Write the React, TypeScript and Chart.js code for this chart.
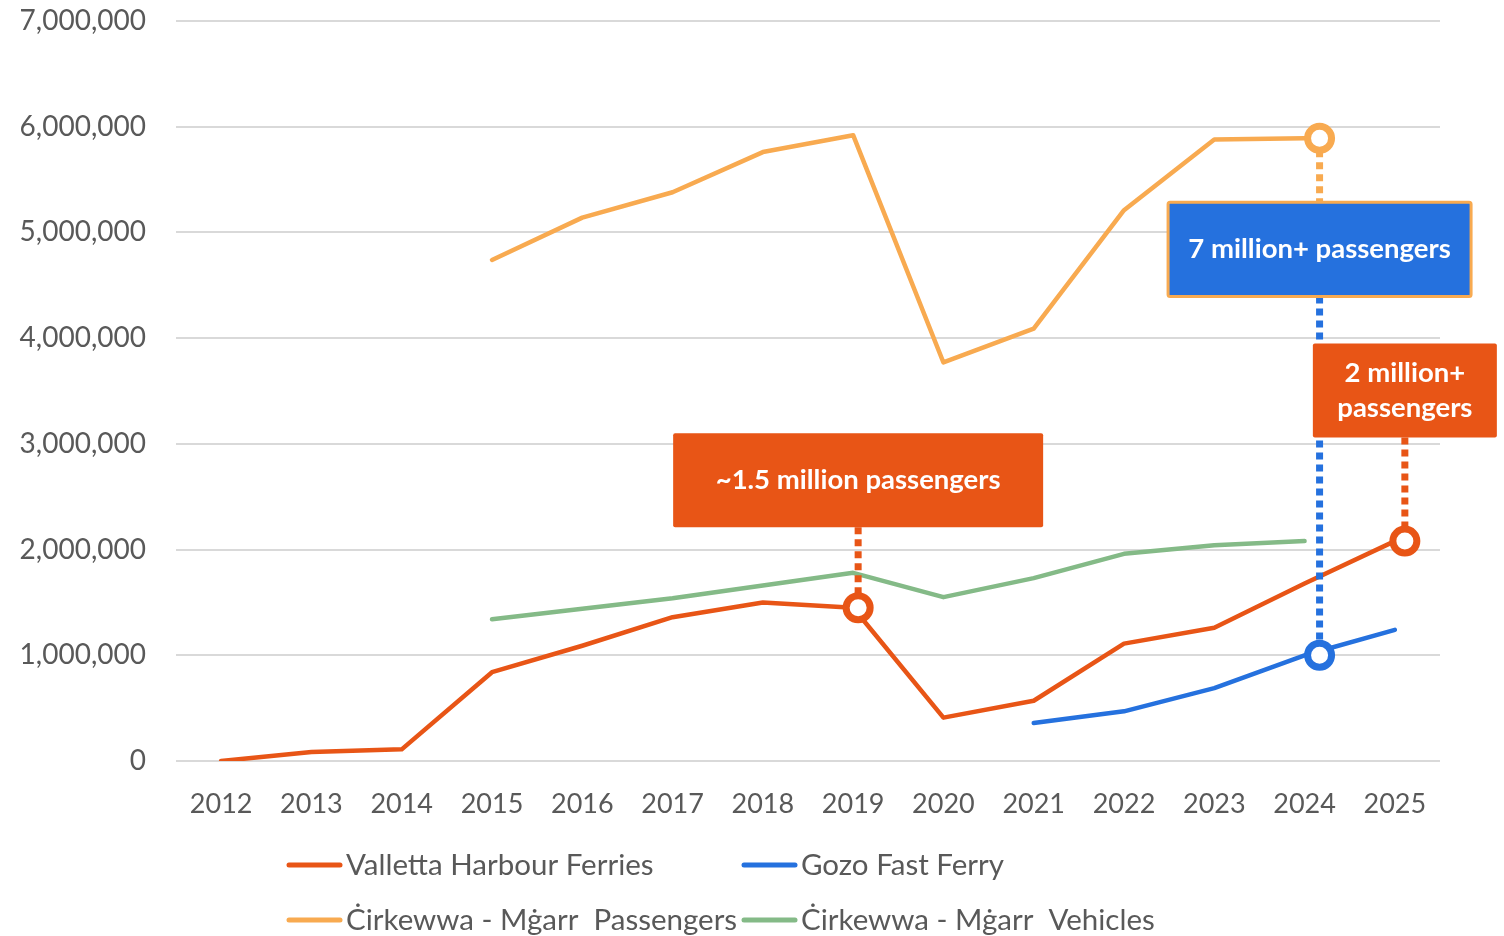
import React, { useEffect, useRef } from "react";
import { Chart, registerables } from "chart.js";

Chart.register(...registerables);

const years = ["2012", "2013", "2014", "2015", "2016", "2017", "2018", "2019", "2020", "2021", "2022", "2023", "2024", "2025"];
const valletta = [0, 85000, 110000, 840000, 1090000, 1360000, 1500000, 1450000, 410000, 570000, 1110000, 1260000, 1680000, 2080000];
const gozo = [null, null, null, null, null, null, null, null, null, 360000, 470000, 690000, 1000000, 1240000];
const cirPassengers = [null, null, null, 4740000, 5140000, 5380000, 5760000, 5920000, 3770000, 4090000, 5210000, 5880000, 5890000, null];
const cirVehicles = [null, null, null, 1340000, 1440000, 1540000, 1660000, 1780000, 1550000, 1730000, 1960000, 2040000, 2080000, null];
const yTicks = [0, 1000000, 2000000, 3000000, 4000000, 5000000, 6000000, 7000000];
const seriesNames = ["Valletta Harbour Ferries", "Gozo Fast Ferry", "Ċirkewwa - Mġarr  Passengers", "Ċirkewwa - Mġarr  Vehicles"];

const RED = "#E85516";
const BLUE = "#2571DE";
const LORANGE = "#F8AA50";
const GREEN = "#84BA87";
const TEXT = "#595959";
const FONT = "Lato";

// annotation callouts: markers on data points, boxes spanning value ranges
const callouts = [
  {
    lines: ["~1.5 million passengers"],
    boxTop: 3100000,
    boxBottom: 2210000,
    boxWidth: 370,
    fill: RED,
    border: null as string | null,
    markers: [{ ds: 0, idx: 7, dx: 5, color: RED }],
  },
  {
    lines: ["7 million+ passengers"],
    boxTop: 5285000,
    boxBottom: 4395000,
    boxWidth: 303,
    fill: BLUE,
    border: LORANGE as string | null,
    markers: [
      { ds: 2, idx: 12, dx: 15, color: LORANGE },
      { ds: 1, idx: 12, dx: 15, color: BLUE },
    ],
  },
  {
    lines: ["2 million+", "passengers"],
    boxTop: 3950000,
    boxBottom: 3060000,
    boxWidth: 184,
    fill: RED,
    border: null as string | null,
    markers: [{ ds: 0, idx: 13, dx: 10, color: RED }],
  },
];

const calloutPlugin = {
  id: "callouts",
  afterDatasetsDraw(chart: any) {
    const ctx = chart.ctx;
    const xs = chart.scales.x;
    const ys = chart.scales.y;
    callouts.forEach((c) => {
      const m0 = c.markers[0];
      const cx = xs.getPixelForValue(m0.idx) + m0.dx;
      const top = ys.getPixelForValue(c.boxTop);
      const bottom = ys.getPixelForValue(c.boxBottom);
      const left = cx - c.boxWidth / 2;
      const r = 12;
      // connectors
      c.markers.forEach((m) => {
        const val = (chart.data.datasets[m.ds].data as any[])[m.idx];
        const px = xs.getPixelForValue(m.idx) + m.dx;
        const py = ys.getPixelForValue(val);
        ctx.save();
        ctx.strokeStyle = m.color;
        ctx.lineWidth = 7;
        ctx.setLineDash([7, 5]);
        ctx.lineCap = "butt";
        ctx.beginPath();
        if (py < top) {
          ctx.moveTo(px, py + r);
          ctx.lineTo(px, top);
        } else {
          ctx.moveTo(px, bottom);
          ctx.lineTo(px, py - r);
        }
        ctx.stroke();
        ctx.restore();
      });
      // box
      ctx.save();
      ctx.fillStyle = c.fill;
      ctx.beginPath();
      (ctx as any).roundRect(left, top, c.boxWidth, bottom - top, 2);
      ctx.fill();
      if (c.border) {
        ctx.strokeStyle = c.border;
        ctx.lineWidth = 3;
        ctx.stroke();
      }
      ctx.fillStyle = "#FFFFFF";
      ctx.font = `bold 27.5px ${FONT}`;
      ctx.textAlign = "center";
      ctx.textBaseline = "middle";
      const mid = (top + bottom) / 2;
      const lh = 35;
      c.lines.forEach((t, i) => {
        ctx.fillText(t, cx, mid + (i - (c.lines.length - 1) / 2) * lh);
      });
      ctx.restore();
      // markers
      c.markers.forEach((m) => {
        const val = (chart.data.datasets[m.ds].data as any[])[m.idx];
        const px = xs.getPixelForValue(m.idx) + m.dx;
        const py = ys.getPixelForValue(val);
        ctx.save();
        ctx.beginPath();
        ctx.arc(px, py, r, 0, Math.PI * 2);
        ctx.fillStyle = "#FFFFFF";
        ctx.fill();
        ctx.lineWidth = 7;
        ctx.strokeStyle = m.color;
        ctx.stroke();
        ctx.restore();
      });
    });
  },
};

const legendSlots = [
  { x: 287, y: 865 },
  { x: 742, y: 865 },
  { x: 287, y: 920 },
  { x: 742, y: 920 },
];

const legendPlugin = {
  id: "customLegend",
  afterDraw(chart: any) {
    const ctx = chart.ctx;
    chart.data.datasets.forEach((ds: any, i: number) => {
      const s = legendSlots[i];
      ctx.save();
      ctx.strokeStyle = ds.borderColor;
      ctx.lineWidth = 5;
      ctx.lineCap = "round";
      ctx.beginPath();
      ctx.moveTo(s.x + 2, s.y);
      ctx.lineTo(s.x + 53, s.y);
      ctx.stroke();
      ctx.fillStyle = TEXT;
      ctx.font = `29.5px ${FONT}`;
      ctx.textAlign = "left";
      ctx.textBaseline = "middle";
      ctx.fillText(ds.label, s.x + 59, s.y);
      ctx.restore();
    });
  },
};

export default function App() {
  const ref = useRef<HTMLCanvasElement | null>(null);
  useEffect(() => {
    if (!ref.current) return;
    const mk = (label: string, data: any[], color: string) => ({
      label,
      data,
      borderColor: color,
      backgroundColor: color,
      borderWidth: 4.5,
      pointRadius: 0,
      pointHoverRadius: 0,
      tension: 0,
      spanGaps: false,
      borderCapStyle: "round" as const,
      borderJoinStyle: "round" as const,
      fill: false,
    });
    const chart = new Chart(ref.current, {
      type: "line",
      data: {
        labels: years,
        datasets: [
          mk(seriesNames[0], valletta, RED),
          mk(seriesNames[1], gozo, BLUE),
          mk(seriesNames[2], cirPassengers, LORANGE),
          mk(seriesNames[3], cirVehicles, GREEN),
        ],
      },
      options: {
        responsive: false,
        animation: false,
        layout: { padding: { top: 21, right: 64, bottom: 115, left: 0 } },
        plugins: { legend: { display: false }, tooltip: { enabled: false } },
        scales: {
          x: {
            offset: true,
            grid: { display: false, drawTicks: false },
            border: { display: false },
            ticks: { color: TEXT, font: { family: FONT, size: 27 }, padding: 27, maxRotation: 0 },
            afterFit: (s: any) => {
              s.height = 60;
              s.paddingLeft = 0;
              s.paddingRight = 0;
            },
          },
          y: {
            min: 0,
            max: 7000000,
            afterBuildTicks: (s: any) => {
              s.ticks = yTicks.map((v) => ({ value: v }));
            },
            grid: { color: "#D9D9D9", lineWidth: 2, drawTicks: false },
            border: { display: false },
            ticks: {
              color: TEXT,
              font: { family: FONT, size: 28 },
              padding: 30,
              callback: (v: any) => Number(v).toLocaleString("en-US"),
            },
            afterFit: (s: any) => {
              s.width = 176;
              s.paddingTop = 0;
              s.paddingBottom = 0;
            },
          },
        },
      },
      plugins: [calloutPlugin, legendPlugin],
    });
    return () => chart.destroy();
  }, []);
  return (
    <div style={{ position: "absolute", left: 0, top: 0, width: 1504, height: 936, background: "#fff" }}>
      <canvas ref={ref} width={1504} height={936} />
    </div>
  );
}
